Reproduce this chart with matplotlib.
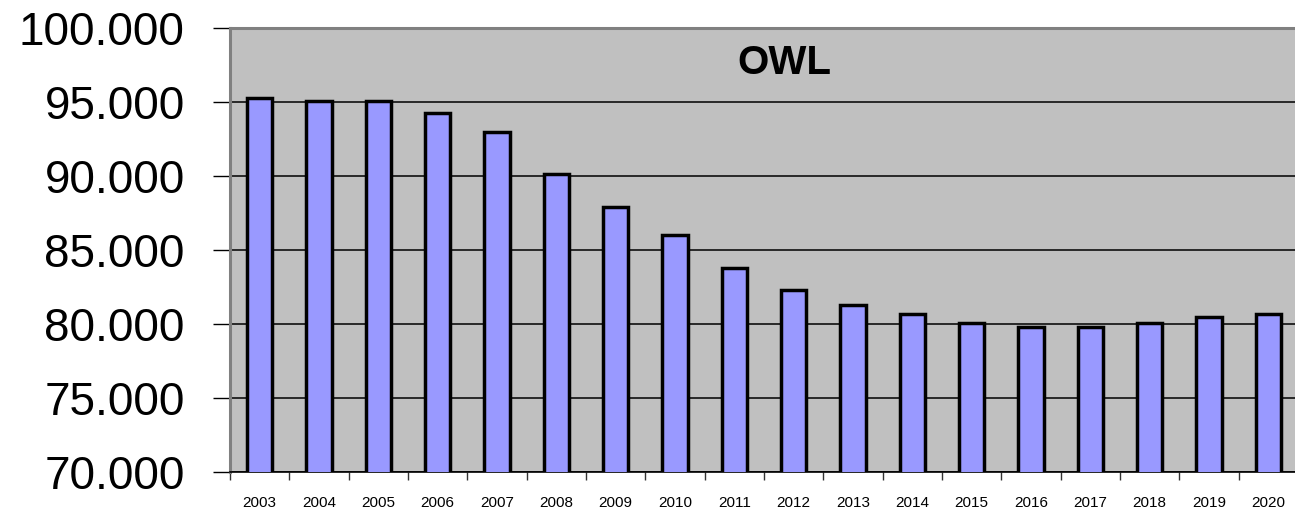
import numpy as np
import matplotlib.pyplot as plt
from matplotlib.ticker import FuncFormatter, FixedLocator

years = ['2003', '2004', '2005', '2006', '2007', '2008', '2009', '2010', '2011',
         '2012', '2013', '2014', '2015', '2016', '2017', '2018', '2019', '2020']
values = [95250, 95100, 95100, 94230, 93000, 90130, 87880, 86000, 83760,
          82300, 81280, 80650, 80050, 79820, 79820, 80050, 80450, 80650]
y_ticks = [70000, 75000, 80000, 85000, 90000, 95000, 100000]

plt.rcParams['font.family'] = ['Liberation Sans', 'DejaVu Sans']

fig = plt.figure(figsize=(12.95, 5.12), dpi=100)
ax = fig.add_axes([230 / 1295, 40 / 512, 1068 / 1295, 444 / 512])

x = np.arange(len(years))
ax.bar(x, values, width=0.43, color='#9999FF', edgecolor='black', linewidth=2.5, zorder=3)

ax.set_facecolor('#C0C0C0')
ax.set_xlim(-0.5, len(years) - 0.5)
ax.set_ylim(70000, 100000)
ax.set_yticks(y_ticks)
ax.yaxis.set_major_formatter(FuncFormatter(lambda v, p: f'{int(v):,}'.replace(',', '.')))
ax.yaxis.grid(True, color='black', linewidth=1.1, zorder=1)
ax.set_axisbelow(True)

# year labels centred under bars, tick marks between categories
ax.set_xticks(x)
ax.set_xticklabels(years)
ax.xaxis.set_minor_locator(FixedLocator(np.arange(-0.5, len(years), 1.0)))
ax.tick_params(axis='x', which='major', length=0, labelsize=11, pad=17)
ax.tick_params(axis='x', which='minor', length=6, width=1, color='#333333')
ax.tick_params(axis='y', length=12, width=1, labelsize=33, pad=20.5)

for side in ['top', 'left']:
    ax.spines[side].set_color('#808080')
    ax.spines[side].set_linewidth(2.2)
ax.spines['right'].set_visible(False)
ax.spines['bottom'].set_color('black')
ax.spines['bottom'].set_linewidth(1.2)

ax.text(0.519, 0.921, 'OWL', transform=ax.transAxes, ha='center', va='center',
        fontsize=29, fontweight='bold')

fig.savefig('out.png', dpi=100)
